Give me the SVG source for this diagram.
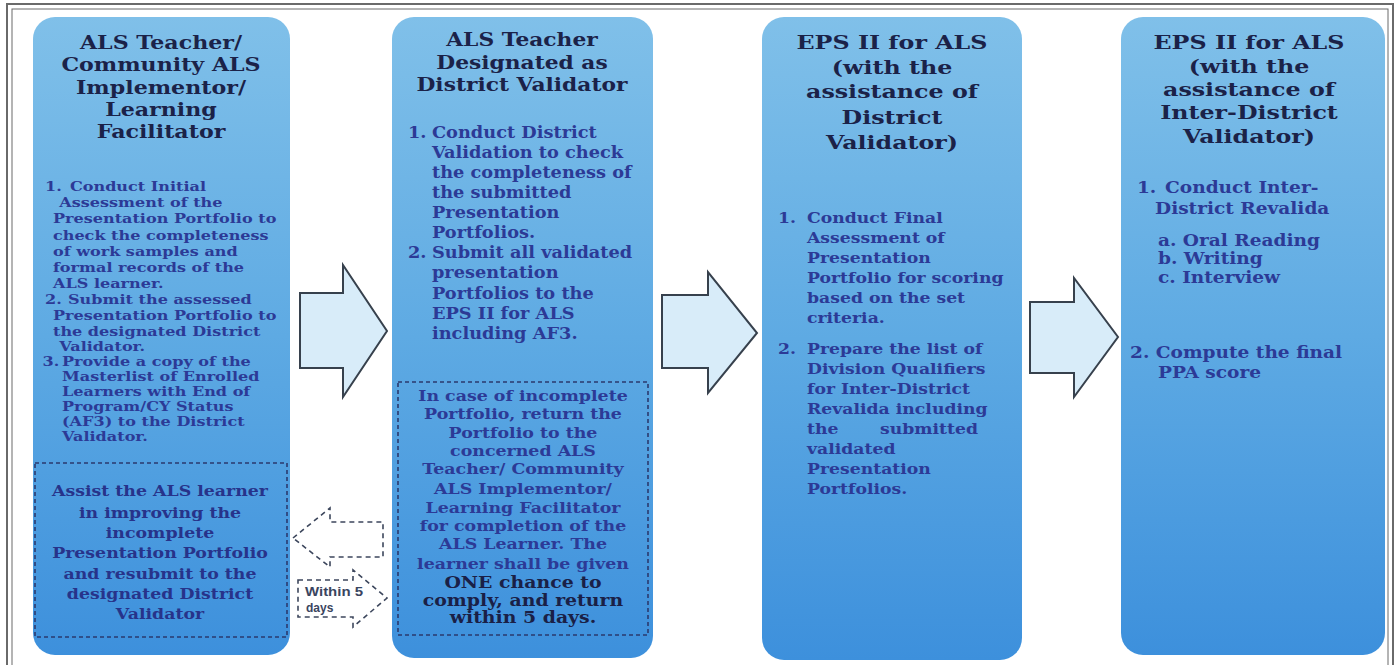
<svg xmlns="http://www.w3.org/2000/svg" width="1395" height="665" viewBox="0 0 1395 665">
  <defs>
    <linearGradient id="boxFill" x1="0" y1="0" x2="0" y2="1">
      <stop offset="0" stop-color="#80c0e9"/>
      <stop offset="0.5" stop-color="#5eaae3"/>
      <stop offset="1" stop-color="#3d90dc"/>
    </linearGradient>
    <style>
      .frame{fill:none;stroke:#6a6a6a;}
      .box{fill:url(#boxFill);}
      .step{fill:#d8ecf9;stroke:#37414d;stroke-width:2;stroke-linejoin:miter;}
      .back{fill:none;stroke:#3c465c;stroke-width:1.6;stroke-dasharray:5 4;}
      .note{fill:none;stroke:#2b3a6e;stroke-width:1.6;stroke-dasharray:4 3;}
      text{font-family:"DejaVu Serif","Liberation Serif",serif;font-weight:bold;}
      .hd{font-size:18px;fill:#1b2248;text-anchor:middle;}
      .hd2{font-size:19px;fill:#1b2248;text-anchor:middle;}
      .b1{font-size:13.5px;fill:#2c3a96;}
      .b2{font-size:16px;fill:#2c3a96;}
      .b3{font-size:15px;fill:#2c3a96;}
      .b4{font-size:16px;fill:#2c3a96;}
      .d1{font-size:15.5px;fill:#27338a;text-anchor:middle;}
      .d2{font-size:15px;fill:#2c3a96;text-anchor:middle;}
      .d2k{font-size:16px;fill:#1a2046;text-anchor:middle;}
      .tag{font-family:"Liberation Sans",Arial,sans-serif;font-size:12px;fill:#3a4560;}
    </style>
  </defs>

  <!-- double page frame -->
  <rect class="frame" x="7" y="4" width="1386" height="670" stroke-width="2"/>
  <rect class="frame" x="12" y="9" width="1376" height="660" stroke-width="1"/>

  <!-- step 1: teacher / implementor / facilitator -->
  <g id="node-teacher">
    <rect class="box" x="33" y="17" width="257" height="638" rx="22"/>
    <!-- the wide book face is approximated by stretching the lines horizontally -->
    <g transform="matrix(1.23 0 0 1 -37.03 0)">
      <text class="hd" x="161" y="49">ALS Teacher/</text>
      <text class="hd" x="161" y="71">Community ALS</text>
      <text class="hd" x="161" y="94">Implementor/</text>
      <text class="hd" x="161" y="116">Learning</text>
      <text class="hd" x="161" y="138">Facilitator</text>
    </g>
    <g class="b1" transform="matrix(1.19 0 0 1 -8.55 0)">
      <text x="45" y="191">1.</text>
      <text x="66" y="191">Conduct Initial</text>
      <text x="57" y="207">Assessment of the</text>
      <text x="51.7" y="223">Presentation Portfolio to</text>
      <text x="51.7" y="240">check the completeness</text>
      <text x="51.7" y="256">of work samples and</text>
      <text x="51.7" y="272">formal records of the</text>
      <text x="51.7" y="288">ALS learner.</text>
      <text x="45" y="304">2.</text>
      <text x="64.3" y="304">Submit the assessed</text>
      <text x="51.7" y="320">Presentation Portfolio to</text>
      <text x="51.7" y="336">the designated District</text>
      <text x="57" y="351">Validator.</text>
      <text x="43" y="366">3.</text>
      <text x="59.3" y="366">Provide a copy of the</text>
      <text x="59.3" y="381">Masterlist of Enrolled</text>
      <text x="59.3" y="396">Learners with End of</text>
      <text x="59.3" y="411">Program/CY Status</text>
      <text x="59.3" y="426">(AF3) to the District</text>
      <text x="59.3" y="441">Validator.</text>
    </g>
  </g>

  <g id="node-assist">
    <rect class="note" x="35" y="463" width="252" height="174"/>
    <g transform="matrix(1.12 0 0 1 -19.2 0)">
      <text class="d1" x="160" y="496">Assist the ALS learner</text>
      <text class="d1" x="160" y="518">in improving the</text>
      <text class="d1" x="160" y="538">incomplete</text>
      <text class="d1" x="160" y="558">Presentation Portfolio</text>
      <text class="d1" x="160" y="579">and resubmit to the</text>
      <text class="d1" x="160" y="599">designated District</text>
      <text class="d1" x="160" y="619">Validator</text>
    </g>
  </g>

  <!-- step 2: district validator -->
  <g id="node-district-validator">
    <rect class="box" x="392" y="17" width="261" height="641" rx="22"/>
    <g transform="matrix(1.21 0 0 1 -109.62 0)">
      <text class="hd" x="522" y="46">ALS Teacher</text>
      <text class="hd" x="522" y="69">Designated as</text>
      <text class="hd" x="522" y="91">District Validator</text>
    </g>
    <g class="b2" transform="matrix(1.11 0 0 1 -44.88 0)">
      <text x="408" y="138">1.</text>
      <text x="429.6" y="138">Conduct District</text>
      <text x="429.6" y="158">Validation to check</text>
      <text x="429.6" y="178">the completeness of</text>
      <text x="429.6" y="198">the submitted</text>
      <text x="429.6" y="218">Presentation</text>
      <text x="429.6" y="238">Portfolios.</text>
      <text x="408" y="258">2.</text>
      <text x="429.6" y="258">Submit all validated</text>
      <text x="429.6" y="278">presentation</text>
      <text x="429.6" y="299">Portfolios to the</text>
      <text x="429.6" y="319">EPS II for ALS</text>
      <text x="429.6" y="339">including AF3.</text>
    </g>
  </g>

  <g id="node-incomplete">
    <rect class="note" x="398" y="382" width="250" height="253"/>
    <g transform="matrix(1.16 0 0 1 -83.68 0)">
      <text class="d2" x="523" y="401">In case of incomplete</text>
      <text class="d2" x="523" y="419">Portfolio, return the</text>
      <text class="d2" x="523" y="438">Portfolio to the</text>
      <text class="d2" x="523" y="456">concerned ALS</text>
      <text class="d2" x="523" y="474">Teacher/ Community</text>
      <text class="d2" x="523" y="494">ALS Implementor/</text>
      <text class="d2" x="523" y="513">Learning Facilitator</text>
      <text class="d2" x="523" y="531">for completion of the</text>
      <text class="d2" x="523" y="549">ALS Learner. The</text>
      <text class="d2" x="523" y="569">learner shall be given</text>
    </g>
    <g transform="matrix(1.18 0 0 1 -94.14 0)">
      <text class="d2k" x="523" y="588">ONE chance to</text>
      <text class="d2k" x="523" y="606">comply, and return</text>
      <text class="d2k" x="523" y="623">within 5 days.</text>
    </g>
  </g>

  <!-- step 3: EPS II with district validator -->
  <g id="node-eps-district">
    <rect class="box" x="762" y="17" width="260" height="643" rx="22"/>
    <g transform="matrix(1.25 0 0 1 -223 0)">
      <text class="hd2" x="892" y="49">EPS II for ALS</text>
      <text class="hd2" x="892" y="74">(with the</text>
      <text class="hd2" x="892" y="98">assistance of</text>
      <text class="hd2" x="892" y="124">District</text>
      <text class="hd2" x="892" y="149">Validator)</text>
    </g>
    <g class="b3" transform="matrix(1.15 0 0 1 -116.7 0)">
      <text x="778" y="223">1.</text>
      <text x="803.2" y="223">Conduct Final</text>
      <text x="803.2" y="243">Assessment of</text>
      <text x="803.2" y="263">Presentation</text>
      <text x="803.2" y="283">Portfolio for scoring</text>
      <text x="803.2" y="303">based on the set</text>
      <text x="803.2" y="323">criteria.</text>
      <text x="778" y="354">2.</text>
      <text x="803.2" y="354">Prepare the list of</text>
      <text x="803.2" y="374">Division Qualifiers</text>
      <text x="803.2" y="394">for Inter-District</text>
      <text x="803.2" y="414">Revalida including</text>
      <text x="803.2" y="434">the</text>
      <text x="951.9" y="434" text-anchor="end">submitted</text>
      <text x="803.2" y="454">validated</text>
      <text x="803.2" y="474">Presentation</text>
      <text x="803.2" y="494">Portfolios.</text>
    </g>
  </g>

  <!-- step 4: EPS II with inter-district validator -->
  <g id="node-eps-inter-district">
    <rect class="box" x="1121" y="17" width="264" height="638" rx="22"/>
    <g transform="matrix(1.25 0 0 1 -312.25 0)">
      <text class="hd2" x="1249" y="49">EPS II for ALS</text>
      <text class="hd2" x="1249" y="73">(with the</text>
      <text class="hd2" x="1249" y="96">assistance of</text>
      <text class="hd2" x="1249" y="119">Inter-District</text>
      <text class="hd2" x="1249" y="143">Validator)</text>
    </g>
    <g class="b4" transform="matrix(1.16 0 0 1 -180.8 0)">
      <text x="1136" y="193">1.</text>
      <text x="1160.2" y="193">Conduct Inter-</text>
      <text x="1151.6" y="214">District Revalida</text>
      <text x="1154.1" y="246">a. Oral Reading</text>
      <text x="1154.1" y="264">b. Writing</text>
      <text x="1154.1" y="283">c. Interview</text>
      <text x="1130" y="358">2. Compute the final</text>
      <text x="1154.1" y="378">PPA score</text>
    </g>
  </g>

  <!-- connectors -->
  <g id="connectors">
    <polygon class="step" points="300,293 343,293 343,265 387,331 343,397 343,368 300,368"/>
    <polygon class="step" points="662,295 708,295 708,272 757,333 708,393 708,368 662,368"/>
    <polygon class="step" points="1030,302 1074,302 1074,278 1118,337 1074,397 1074,373 1030,373"/>
    <polygon class="back" points="293,538 330,508 330,522 383,522 383,557 330,557 330,567"/>
    <polygon class="back" points="298,580 353,580 353,570 387,598 353,627 353,617 298,617"/>
    <text class="tag" x="305" y="596" font-weight="bold" textLength="58" lengthAdjust="spacingAndGlyphs">Within 5</text>
    <text class="tag" x="306" y="612" font-weight="bold">days</text>
  </g>
</svg>
